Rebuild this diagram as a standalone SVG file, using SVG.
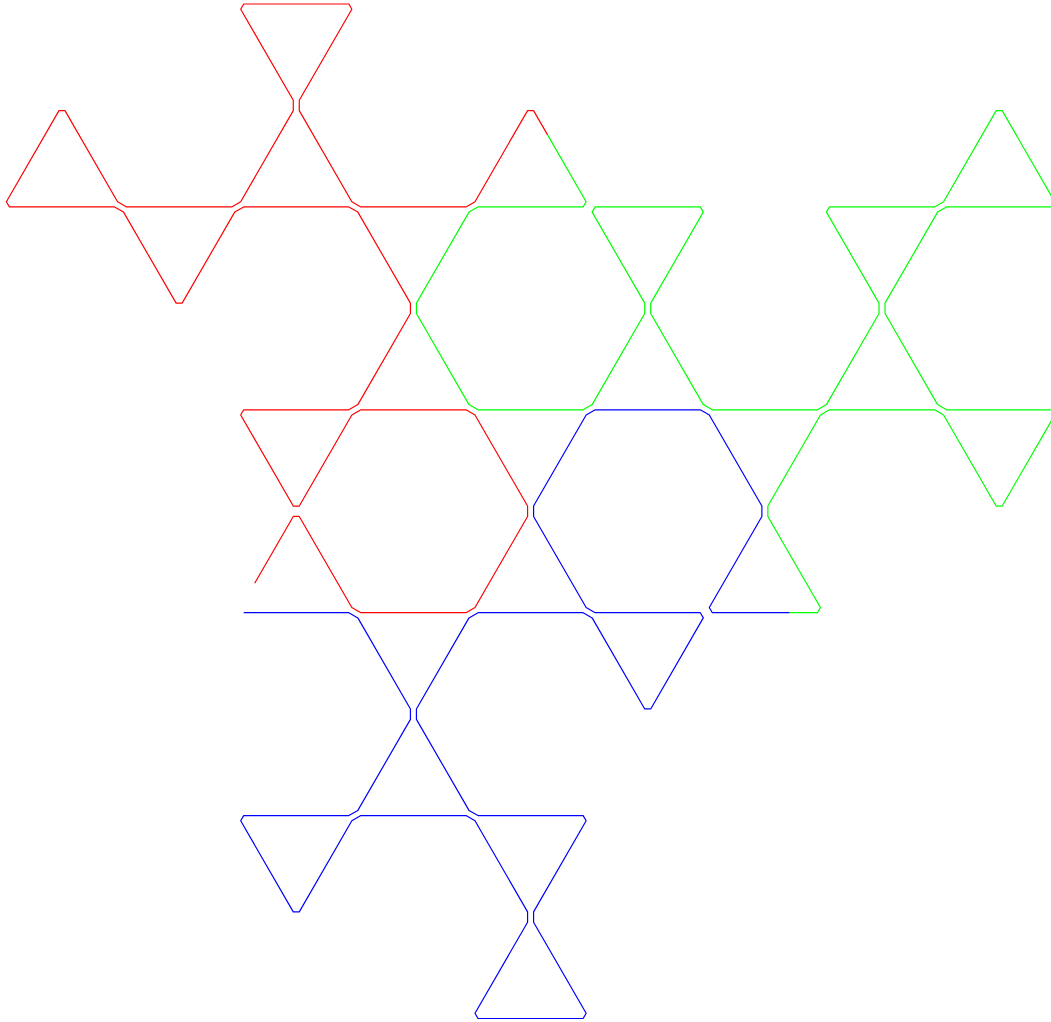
<svg xmlns="http://www.w3.org/2000/svg" width="1051" height="1022" viewBox="0 0 1051 1022">
<style>
.c{fill:none;stroke-width:1.2;stroke-linejoin:round;stroke-linecap:butt}
.r{stroke:#ff0000}.g{stroke:#00ff00}.b{stroke:#0000ff}
</style>
<rect width="1051" height="1022" fill="#ffffff"/>
<g id="red-curve">
<path class="c r" d="M254.7,583.3 L293.28,516.45 L299.28,516.45 L351.85,607.5 L360.85,612.7 L466,612.7 L475,607.5 L527.58,516.45 L527.58,506.05 L475,415 L466,409.8 L360.85,409.8 L351.85,415 L299.28,506.05 L293.28,506.05 L240.7,415 L243.7,409.8 L348.85,409.8 L357.85,404.6 L410.43,313.55 L410.43,303.15 L357.85,212.1 L348.85,206.9 L243.7,206.9 L234.7,212.1 L182.13,303.15 L176.13,303.15 L123.55,212.1 L114.55,206.9 L9.4,206.9 L6.4,201.7 L58.98,110.65 L64.98,110.65 L117.55,201.7 L126.55,206.9 L231.7,206.9 L240.7,201.7 L293.28,110.65 L293.28,100.25 L240.7,9.2 L243.7,4 L348.85,4 L351.85,9.2 L299.28,100.25 L299.28,110.65 L351.85,201.7 L360.85,206.9 L466,206.9 L475,201.7 L527.58,110.65 L533.58,110.65 L547.58,134.9"/>
</g>
<g id="green-curve">
<path class="c g" d="M547.58,134.9 L586.15,201.7 L583.15,206.9 L478,206.9 L469,212.1 L416.43,303.15 L416.43,313.55 L469,404.6 L478,409.8 L583.15,409.8 L592.15,404.6 L644.73,313.55 L644.73,303.15 L592.15,212.1 L595.15,206.9 L700.3,206.9 L703.3,212.1 L650.73,303.15 L650.73,313.55 L703.3,404.6 L712.3,409.8 L817.45,409.8 L826.45,404.6 L879.03,313.55 L879.03,303.15 L826.45,212.1 L829.45,206.9 L934.6,206.9 L943.6,201.7 L996.18,110.65 L1002.18,110.65 L1057.75,206.9"/>
<path class="c g" d="M1057.75,206.9 L946.6,206.9 L937.6,212.1 L885.03,303.15 L885.03,313.55 L937.6,404.6 L946.6,409.8 L1057.75,409.8"/>
<path class="c g" d="M1057.75,409.8 L1002.18,506.05 L996.18,506.05 L943.6,415 L934.6,409.8 L829.45,409.8 L820.45,415 L767.88,506.05 L767.88,516.45 L820.45,607.5 L817.45,612.7 L789.45,612.7"/>
</g>
<g id="blue-curve">
<path class="c b" d="M789.45,612.7 L712.3,612.7 L709.3,607.5 L761.88,516.45 L761.88,506.05 L709.3,415 L700.3,409.8 L595.15,409.8 L586.15,415 L533.58,506.05 L533.58,516.45 L586.15,607.5 L595.15,612.7 L700.3,612.7 L703.3,617.9 L650.73,708.95 L644.73,708.95 L592.15,617.9 L583.15,612.7 L478,612.7 L469,617.9 L416.43,708.95 L416.43,719.35 L469,810.4 L478,815.6 L583.15,815.6 L586.15,820.8 L533.58,911.85 L533.58,922.25 L586.15,1013.3 L583.15,1018.5 L478,1018.5 L475,1013.3 L527.58,922.25 L527.58,911.85 L475,820.8 L466,815.6 L360.85,815.6 L351.85,820.8 L299.28,911.85 L293.28,911.85 L240.7,820.8 L243.7,815.6 L348.85,815.6 L357.85,810.4 L410.43,719.35 L410.43,708.95 L357.85,617.9 L348.85,612.7 L243.7,612.7"/>
</g>
</svg>
